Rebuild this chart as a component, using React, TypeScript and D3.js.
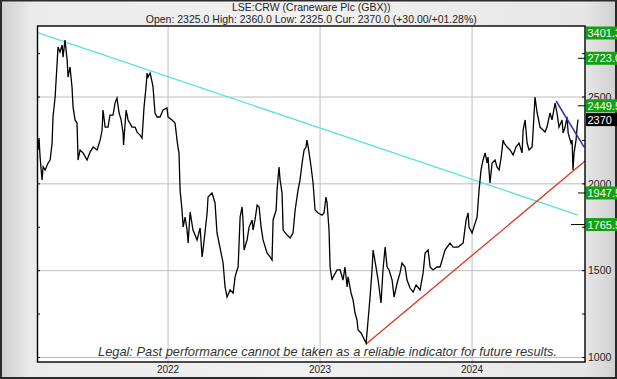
import React from "react";
import * as d3 from "d3";

// Decimal-year dates and closing prices (GBX)
const dates: number[] = [
  2021.145, 2021.151, 2021.158, 2021.171, 2021.178, 2021.191, 2021.211, 2021.224, 2021.237, 2021.243,
  2021.257, 2021.27, 2021.276, 2021.289, 2021.303, 2021.309, 2021.322, 2021.336, 2021.342, 2021.355,
  2021.368, 2021.375, 2021.388, 2021.401, 2021.408, 2021.421, 2021.441, 2021.467, 2021.487, 2021.507,
  2021.533, 2021.553, 2021.566, 2021.572, 2021.586, 2021.605, 2021.618, 2021.638, 2021.651, 2021.664,
  2021.678, 2021.691, 2021.704, 2021.707, 2021.724, 2021.737, 2021.763, 2021.783, 2021.796, 2021.816,
  2021.829, 2021.842, 2021.855, 2021.862, 2021.868, 2021.882, 2021.895, 2021.901, 2021.914, 2021.928,
  2021.947, 2021.967, 2021.993, 2022.0, 2022.026, 2022.046, 2022.059, 2022.066, 2022.072, 2022.079,
  2022.092, 2022.099, 2022.112, 2022.125, 2022.132, 2022.145, 2022.164, 2022.191, 2022.211, 2022.224,
  2022.23, 2022.257, 2022.263, 2022.289, 2022.309, 2022.322, 2022.342, 2022.362, 2022.375, 2022.388,
  2022.408, 2022.428, 2022.441, 2022.454, 2022.461, 2022.474, 2022.487, 2022.493, 2022.5, 2022.52,
  2022.533, 2022.553, 2022.559, 2022.572, 2022.586, 2022.599, 2022.612, 2022.625, 2022.651, 2022.671,
  2022.684, 2022.691, 2022.711, 2022.717, 2022.73, 2022.737, 2022.75, 2022.757, 2022.783, 2022.803,
  2022.822, 2022.836, 2022.855, 2022.868, 2022.882, 2022.895, 2022.908, 2022.914, 2022.928, 2022.941,
  2022.954, 2022.967, 2022.987, 2023.013, 2023.026, 2023.039, 2023.046, 2023.059, 2023.066, 2023.079,
  2023.086, 2023.112, 2023.132, 2023.151, 2023.164, 2023.178, 2023.184, 2023.204, 2023.217, 2023.23,
  2023.243, 2023.25, 2023.27, 2023.283, 2023.303, 2023.316, 2023.329, 2023.342, 2023.349, 2023.368,
  2023.382, 2023.401, 2023.414, 2023.428, 2023.441, 2023.454, 2023.474, 2023.487, 2023.507, 2023.526,
  2023.539, 2023.559, 2023.572, 2023.592, 2023.612, 2023.632, 2023.658, 2023.678, 2023.691, 2023.711,
  2023.724, 2023.743, 2023.77, 2023.789, 2023.803, 2023.822, 2023.855, 2023.875, 2023.908, 2023.941,
  2023.961, 2023.974, 2023.98, 2024.0, 2024.02, 2024.033, 2024.046, 2024.059, 2024.072, 2024.086,
  2024.099, 2024.105, 2024.118, 2024.132, 2024.151, 2024.164, 2024.178, 2024.191, 2024.204, 2024.211,
  2024.23, 2024.25, 2024.27, 2024.289, 2024.309, 2024.329, 2024.336, 2024.349, 2024.362, 2024.375,
  2024.395, 2024.401, 2024.414, 2024.428, 2024.434, 2024.447, 2024.467, 2024.48, 2024.493, 2024.513,
  2024.526, 2024.546, 2024.559, 2024.572, 2024.592, 2024.599, 2024.612, 2024.625, 2024.632, 2024.651,
  2024.658, 2024.664, 2024.671, 2024.684, 2024.691, 2024.697,
];
const prices: number[] = [
  2195, 2264, 2154, 2022, 2097, 2080, 2120, 2137, 2235, 2385,
  2500, 2696, 2788, 2759, 2799, 2730, 2828, 2713, 2615, 2673,
  2558, 2442, 2368, 2350, 2137, 2195, 2178, 2137, 2183, 2212,
  2195, 2252, 2310, 2425, 2327, 2327, 2396, 2396, 2465, 2494,
  2408, 2368, 2293, 2224, 2425, 2368, 2327, 2327, 2298, 2281,
  2264, 2442, 2558, 2638, 2615, 2638, 2586, 2558, 2408, 2385,
  2385, 2425, 2437, 2385, 2368, 2350, 2252, 2206, 2178, 1964,
  1849, 1751, 1809, 1734, 1659, 1838, 1734, 1677, 1746, 1579,
  1619, 1832, 1924, 1947, 1890, 1717, 1631, 1544, 1406, 1348,
  1389, 1371, 1464, 1504, 1521, 1809, 1867, 1792, 1619, 1677,
  1751, 1792, 1734, 1792, 1878, 1867, 1751, 1677, 1602, 1579,
  1561, 1792, 1849, 1964, 2097, 2022, 1947, 1734, 1705, 1688,
  1717, 1849, 1964, 2022, 2120, 2195, 2212, 2252, 2178, 2097,
  2005, 1849, 1832, 1820, 1832, 1924, 1890, 1734, 1521, 1446,
  1464, 1504, 1504, 1446, 1521, 1406, 1464, 1371, 1331, 1256,
  1216, 1158, 1141, 1118, 1083, 1216, 1348, 1504, 1619, 1521,
  1446, 1314, 1504, 1636, 1521, 1504, 1446, 1348, 1429, 1487,
  1544, 1521, 1446, 1400, 1377, 1417, 1389, 1487, 1602, 1619,
  1521, 1504, 1521, 1521, 1561, 1619, 1659, 1636, 1636, 1659,
  1792, 1832, 1751, 1717, 1774, 1809, 1964, 2080, 2137, 2178,
  2120, 2154, 2005, 2120, 2137, 2097, 2080, 2149, 2252, 2235,
  2212, 2195, 2166, 2212, 2235, 2178, 2310, 2368, 2235, 2195,
  2212, 2293, 2500, 2408, 2385, 2327, 2310, 2298, 2327, 2408,
  2368, 2465, 2408, 2327, 2368, 2293, 2327, 2385, 2293, 2235,
  2252, 2080, 2178, 2252, 2327, 2370,
];

const yearTicks: number[] = [2022, 2023, 2024];
const yearLabels: string[] = ["2022", "2023", "2024"];
const priceTicks: number[] = [1000, 1500, 2000, 2500];
const minorPriceTicks: number[] = [1000, 1250, 1500, 1750, 2000, 2250, 2500, 2750];

const cyanDates: number[] = [2021.141, 2024.697];
const cyanValues: number[] = [2871, 1820];
const redDates: number[] = [2023.303, 2024.743];
const redValues: number[] = [1078, 2131];
const blueDates: number[] = [2024.553, 2024.737];
const blueValues: number[] = [2477, 2212];

const levelLabels: string[] = ["3401.3", "2723.0", "2449.5", "2370", "1947.5", "1765.5"];
const levelValues: number[] = [3401.3, 2723.0, 2449.5, 2370, 1947.5, 1765.5];
const currentLevel = "2370";

const titleText = "LSE:CRW (Craneware Plc (GBX))";
const subtitleText = "Open: 2325.0 High: 2360.0 Low: 2325.0 Cur: 2370.0 (+30.00/+01.28%)";
const legalText = "Legal:  Past performance cannot  be taken as a reliable indicator for future results.";

const W = 617;
const H = 379;
const L = 37.5;
const R = 585;
const T = 26;
const B = 362;

export default function App() {
  const x = d3.scaleLinear().domain([2021.141, 2024.743]).range([L, R]);
  const y = d3.scaleLinear().domain([974, 2909]).range([B, T]);

  const priceLine = d3
    .line<number>()
    .x((_, i) => x(dates[i]))
    .y((d) => y(d))(prices) as string;

  const seg = (ds: number[], vs: number[]) =>
    d3
      .line<number>()
      .x((_, i) => x(ds[i]))
      .y((d) => y(d))(vs) as string;

  const font = "Arial, 'Liberation Sans', sans-serif";

  return (
    <svg
      width={W}
      height={H}
      viewBox={`0 0 ${W} ${H}`}
      style={{ position: "absolute", left: 0, top: 0, display: "block" }}
      fontFamily={font}
    >
      <defs>
        <linearGradient id="bgH" x1="0" x2={W} y1="0" y2="0" gradientUnits="userSpaceOnUse">
          <stop offset="0" stopColor="#cdcdcd" />
          <stop offset="0.05" stopColor="#ebebeb" />
          <stop offset="0.5" stopColor="#f1f1f1" />
          <stop offset="0.95" stopColor="#e6e6e6" />
          <stop offset="1" stopColor="#cfcfcf" />
        </linearGradient>
      </defs>
      <rect x={0} y={0} width={W} height={H} fill="#2a2a2a" />
      <rect x={2} y={1.5} width={W - 4} height={H - 3.5} fill="url(#bgH)" />

      {/* title */}
      <text x={(L + R) / 2} y={10.5} textAnchor="middle" fontSize={10.5} fill="#222">
        {titleText}
      </text>
      <text x={(L + R) / 2} y={22.5} textAnchor="middle" fontSize={10.5} fill="#222">
        {subtitleText}
      </text>

      {/* plot */}
      <rect x={L} y={T} width={R - L} height={B - T} fill="#ffffff" />
      {priceTicks.map((v) => (
        <line key={"hg" + v} x1={L} x2={R} y1={y(v)} y2={y(v)} stroke="#bdbdbd" strokeWidth={1} />
      ))}
      {yearTicks.map((v) => (
        <line key={"vg" + v} x1={x(v)} x2={x(v)} y1={T} y2={B + 3} stroke="#bdbdbd" strokeWidth={1} />
      ))}
      {minorPriceTicks.map((v) => (
        <g key={"mt" + v}>
          <line x1={L} x2={L + 2.5} y1={y(v)} y2={y(v)} stroke="#000" strokeWidth={1} />
          <line x1={R - 3} x2={R} y1={y(v)} y2={y(v)} stroke="#000" strokeWidth={1} />
        </g>
      ))}

      {/* trend lines */}
      <path d={seg(cyanDates, cyanValues)} fill="none" stroke="#55e2dc" strokeWidth={1.4} />
      <path d={seg(redDates, redValues)} fill="none" stroke="#e0321f" strokeWidth={1.3} />

      {/* price */}
      <path d={priceLine} fill="none" stroke="#000" strokeWidth={1.3} strokeLinejoin="miter" />

      <path d={seg(blueDates, blueValues)} fill="none" stroke="#3434a8" strokeWidth={1.5} />

      {/* plot border */}
      <rect x={L} y={T} width={R - L} height={B - T} fill="none" stroke="#000" strokeWidth={1.4} />

      {/* legal */}
      <text
        x={98}
        y={355.5}
        fontSize={13}
        fontStyle="italic"
        fill="#333"
        textLength={459}
        lengthAdjust="spacingAndGlyphs"
      >
        {legalText}
      </text>

      {/* x labels */}
      {yearTicks.map((v, i) => (
        <text key={"xl" + v} x={x(v)} y={372.5} textAnchor="middle" fontSize={10} fill="#222">
          {yearLabels[i]}
        </text>
      ))}

      {/* right axis labels */}
      {priceTicks.map((v) => (
        <text key={"yl" + v} x={588} y={y(v) + 3.8} fontSize={10.5} fill="#222">
          {v}
        </text>
      ))}

      {/* level boxes */}
      {levelValues.map((v, i) => {
        const raw = y(v);
        const cy = Math.max(33, raw);
        const isCur = levelLabels[i] === currentLevel;
        const inside = raw >= T && !isCur;
        return (
          <g key={"lv" + i}>
            {inside && (
              <line x1={R - (v < 1800 ? 14 : 7)} x2={R} y1={raw} y2={raw} stroke="#000" strokeWidth={1} />
            )}
            <rect x={586} y={cy - 6.5} width={31} height={13} fill={isCur ? "#000" : "#12a012"} />
            <text x={587.5} y={cy + 4} fontSize={11} fill="#fff">
              {levelLabels[i]}
            </text>
          </g>
        );
      })}
    </svg>
  );
}
